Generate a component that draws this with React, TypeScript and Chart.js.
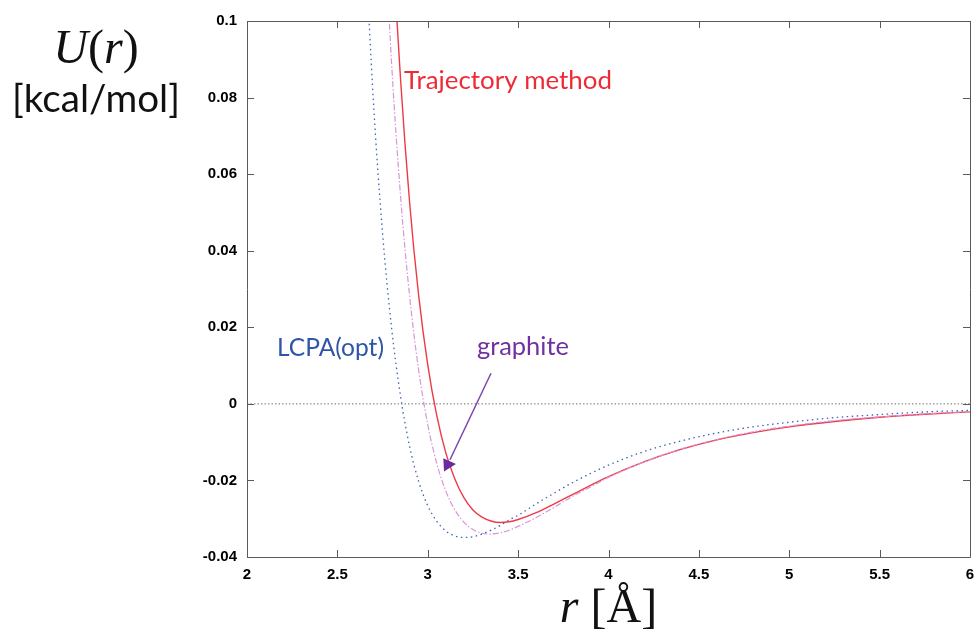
import React, { useEffect, useRef } from "react";
import { Chart, registerables } from "chart.js";
Chart.register(...registerables);

// ---------- data ----------
const xTicks = [2, 2.5, 3, 3.5, 4, 4.5, 5, 5.5, 6];
const xTickLabels = ["2", "2.5", "3", "3.5", "4", "4.5", "5", "5.5", "6"];
const yTicks = [-0.04, -0.02, 0, 0.02, 0.04, 0.06, 0.08, 0.1];
const yTickLabels = ["-0.04", "-0.02", "0", "0.02", "0.04", "0.06", "0.08", "0.1"];

// Trajectory method (red, solid)
const rTraj = [2.75, 2.8, 2.85, 2.9, 2.95, 3.0, 3.05, 3.1, 3.15, 3.2, 3.25, 3.3, 3.35, 3.4, 3.45, 3.5, 3.6, 3.7, 3.8, 3.9, 4.0, 4.2, 4.4, 4.6, 4.8, 5.0, 5.25, 5.5, 5.75, 6.0];
const uTraj = [0.183, 0.1265, 0.0845, 0.0524, 0.0282, 0.0102, -0.0031, -0.0128, -0.0196, -0.0245, -0.0277, -0.0296, -0.0306, -0.031, -0.0308, -0.0302, -0.0284, -0.0261, -0.0237, -0.0213, -0.019, -0.0151, -0.0119, -0.0094, -0.0075, -0.006, -0.0046, -0.0035, -0.0027, -0.0021];

// LCPA(opt) (blue, dotted)
const rLcpa = [2.65, 2.7, 2.75, 2.8, 2.85, 2.9, 2.95, 3.0, 3.05, 3.1, 3.15, 3.2, 3.25, 3.3, 3.35, 3.4, 3.45, 3.5, 3.6, 3.7, 3.8, 3.9, 4.0, 4.2, 4.4, 4.6, 4.8, 5.0, 5.25, 5.5, 5.75, 6.0];
const uLcpa = [0.1241, 0.0784, 0.0446, 0.0198, 0.0018, -0.0112, -0.0203, -0.0266, -0.0307, -0.0332, -0.0345, -0.0349, -0.0347, -0.034, -0.033, -0.0318, -0.0303, -0.0291, -0.0261, -0.0233, -0.0206, -0.0182, -0.016, -0.0124, -0.0097, -0.0076, -0.006, -0.0048, -0.0036, -0.0028, -0.0021, -0.0017];

// graphite (pink, dash-dot)
const rGraph = [2.75, 2.8, 2.85, 2.9, 2.95, 3.0, 3.05, 3.1, 3.15, 3.2, 3.25, 3.3, 3.35, 3.4, 3.45, 3.5, 3.6, 3.7, 3.8, 3.9, 4.0, 4.2, 4.4, 4.6, 4.8, 5.0, 5.25, 5.5, 5.75, 6.0];
const uGraph = [0.1353, 0.0889, 0.054, 0.028, 0.0087, -0.0054, -0.0156, -0.0228, -0.0277, -0.0309, -0.0328, -0.0338, -0.034, -0.0337, -0.033, -0.032, -0.0297, -0.027, -0.0242, -0.0217, -0.0192, -0.0151, -0.0118, -0.0093, -0.0073, -0.0058, -0.0044, -0.0034, -0.0026, -0.002];

// zero reference line
const zeroR = [2, 6];
const zeroU = [0, 0];

// annotation anchors in data units [r, U]
const trajLabelPos = [2.869, 0.0823];
const lcpaLabelPos = [2.166, 0.0125];
const graphLabelPos = [3.272, 0.0128];
const arrowStart = [3.35, 0.008];
const arrowEnd = [3.123, -0.0146];
const arrowHead = [
  [3.086, -0.0142],
  [3.156, -0.0157],
  [3.09, -0.0177],
];

const toPts = (xs: number[], ys: number[]) => xs.map((x, i) => ({ x, y: ys[i] }));

type Run = { t: string; font: string };
function drawRuns(ctx: CanvasRenderingContext2D, runs: Run[], cx: number, baseline: number, color: string) {
  let total = 0;
  const widths = runs.map((r) => {
    ctx.font = r.font;
    const w = ctx.measureText(r.t).width;
    total += w;
    return w;
  });
  let x = cx - total / 2;
  ctx.fillStyle = color;
  ctx.textAlign = "left";
  ctx.textBaseline = "alphabetic";
  runs.forEach((r, i) => {
    ctx.font = r.font;
    ctx.fillText(r.t, x, baseline);
    x += widths[i];
  });
}

function fitFont(ctx: CanvasRenderingContext2D, text: string, style: string, family: string, targetW: number) {
  ctx.font = `${style} 100px ${family}`;
  const w = ctx.measureText(text).width;
  const size = (100 * targetW) / w;
  ctx.font = `${style} ${size}px ${family}`;
}

const framePlugin = {
  id: "frame",
  afterDatasetsDraw(chart: any) {
    const { ctx, chartArea: a, scales } = chart;
    const xs = scales.x;
    const ys = scales.y;
    ctx.save();
    ctx.strokeStyle = "#5a5a5a";
    ctx.lineWidth = 1;
    ctx.beginPath();
    ctx.rect(Math.round(a.left) + 0.5, Math.round(a.top) + 0.5, Math.round(a.right - a.left), Math.round(a.bottom - a.top));
    ctx.stroke();
    const tl = 7;
    ctx.beginPath();
    xTicks.forEach((v) => {
      const px = Math.round(xs.getPixelForValue(v)) + 0.5;
      ctx.moveTo(px, a.bottom);
      ctx.lineTo(px, a.bottom - tl);
      ctx.moveTo(px, a.top);
      ctx.lineTo(px, a.top + tl);
    });
    yTicks.forEach((v) => {
      const py = Math.round(ys.getPixelForValue(v)) + 0.5;
      ctx.moveTo(a.left, py);
      ctx.lineTo(a.left + tl, py);
      ctx.moveTo(a.right, py);
      ctx.lineTo(a.right - tl, py);
    });
    ctx.stroke();
    ctx.restore();
  },
};

const annotationPlugin = {
  id: "annot",
  afterDraw(chart: any) {
    const { ctx, chartArea: a, scales } = chart;
    const xs = scales.x;
    const ys = scales.y;
    const P = (p: number[]) => [xs.getPixelForValue(p[0]), ys.getPixelForValue(p[1])];
    ctx.save();
    ctx.textAlign = "left";
    ctx.textBaseline = "alphabetic";

    // series labels
    let p = P(trajLabelPos);
    fitFont(ctx, "Trajectory method", "normal", "Lato", 208);
    ctx.fillStyle = "#ee2a36";
    ctx.fillText("Trajectory method", p[0], p[1]);

    p = P(lcpaLabelPos);
    fitFont(ctx, "LCPA(opt)", "normal", "Lato", 107);
    ctx.fillStyle = "#2f55a8";
    ctx.fillText("LCPA(opt)", p[0], p[1]);

    p = P(graphLabelPos);
    fitFont(ctx, "graphite", "normal", "Lato", 92);
    ctx.fillStyle = "#7030a0";
    ctx.fillText("graphite", p[0], p[1]);

    // arrow
    const s = P(arrowStart);
    const e = P(arrowEnd);
    ctx.strokeStyle = "#7d45b0";
    ctx.lineWidth = 1.5;
    ctx.beginPath();
    ctx.moveTo(s[0], s[1]);
    ctx.lineTo(e[0], e[1]);
    ctx.stroke();
    ctx.fillStyle = "#6a2a9c";
    ctx.beginPath();
    arrowHead.forEach((h, i) => {
      const q = P(h);
      if (i === 0) ctx.moveTo(q[0], q[1]);
      else ctx.lineTo(q[0], q[1]);
    });
    ctx.closePath();
    ctx.fill();

    // axis titles
    const serif = "'Liberation Serif'";
    const yCx = a.left - 151;
    drawRuns(
      ctx,
      [
        { t: "U", font: `italic 48px ${serif}` },
        { t: "(", font: `normal 48px ${serif}` },
        { t: "r", font: `italic 48px ${serif}` },
        { t: ")", font: `normal 48px ${serif}` },
      ],
      yCx,
      a.top + 42,
      "#111"
    );
    fitFont(ctx, "[kcal/mol]", "normal", "Lato", 168);
    ctx.fillStyle = "#111";
    ctx.textAlign = "center";
    ctx.fillText("[kcal/mol]", yCx, a.top + 91);

    drawRuns(
      ctx,
      [
        { t: "r", font: `italic 48px ${serif}` },
        { t: " [Å]", font: `normal 48px ${serif}` },
      ],
      (a.left + a.right) / 2,
      a.bottom + 65,
      "#111"
    );
    ctx.restore();
  },
};

export default function App() {
  const ref = useRef<HTMLCanvasElement | null>(null);
  useEffect(() => {
    if (!ref.current) return;
    const tickFont = { family: "'Liberation Sans', Arial, sans-serif", weight: "bold" as const, size: 15 };
    const chart = new Chart(ref.current, {
      type: "scatter",
      data: {
        datasets: [
          {
            label: "zero",
            data: toPts(zeroR, zeroU),
            showLine: true,
            borderColor: "#777",
            borderWidth: 1,
            borderDash: [1.5, 2],
            pointRadius: 0,
          },
          {
            label: "LCPA(opt)",
            data: toPts(rLcpa, uLcpa),
            showLine: true,
            borderColor: "#4062b4",
            borderWidth: 1.3,
            borderDash: [1.5, 3.5],
            pointRadius: 0,
            cubicInterpolationMode: "monotone",
          },
          {
            label: "graphite",
            data: toPts(rGraph, uGraph),
            showLine: true,
            borderColor: "#d796d8",
            borderWidth: 1.2,
            borderDash: [6, 2, 1.5, 2],
            pointRadius: 0,
            cubicInterpolationMode: "monotone",
          },
          {
            label: "Trajectory method",
            data: toPts(rTraj, uTraj),
            showLine: true,
            borderColor: "#ee3a46",
            borderWidth: 1.4,
            pointRadius: 0,
            cubicInterpolationMode: "monotone",
          },
        ],
      },
      options: {
        animation: false,
        responsive: false,
        layout: { padding: { top: 21, right: 8, left: 0, bottom: 0 } },
        plugins: { legend: { display: false }, tooltip: { enabled: false } },
        scales: {
          x: {
            type: "linear",
            min: 2,
            max: 6,
            afterBuildTicks: (s: any) => {
              s.ticks = xTicks.map((v) => ({ value: v }));
            },
            afterFit: (s: any) => {
              s.height = 72;
              s.paddingLeft = 0;
              s.paddingRight = 0;
            },
            ticks: {
              callback: (_v: any, i: number) => xTickLabels[i],
              font: tickFont,
              color: "#000",
              padding: 9,
              maxRotation: 0,
              autoSkip: false,
            },
            grid: { display: false, drawTicks: false },
            border: { display: false },
          },
          y: {
            type: "linear",
            min: -0.04,
            max: 0.1,
            afterBuildTicks: (s: any) => {
              s.ticks = yTicks.map((v) => ({ value: v }));
            },
            afterFit: (s: any) => {
              s.width = 247;
              s.paddingTop = 0;
              s.paddingBottom = 0;
            },
            ticks: {
              callback: (_v: any, i: number) => yTickLabels[i],
              font: tickFont,
              color: "#000",
              padding: 10,
              autoSkip: false,
            },
            grid: { display: false, drawTicks: false },
            border: { display: false },
          },
        },
      },
      plugins: [framePlugin, annotationPlugin],
    });
    return () => chart.destroy();
  }, []);
  return (
    <div style={{ position: "fixed", left: 0, top: 0, width: 978, height: 629, background: "#fff" }}>
      <canvas ref={ref} width={978} height={629} style={{ display: "block" }} />
    </div>
  );
}
